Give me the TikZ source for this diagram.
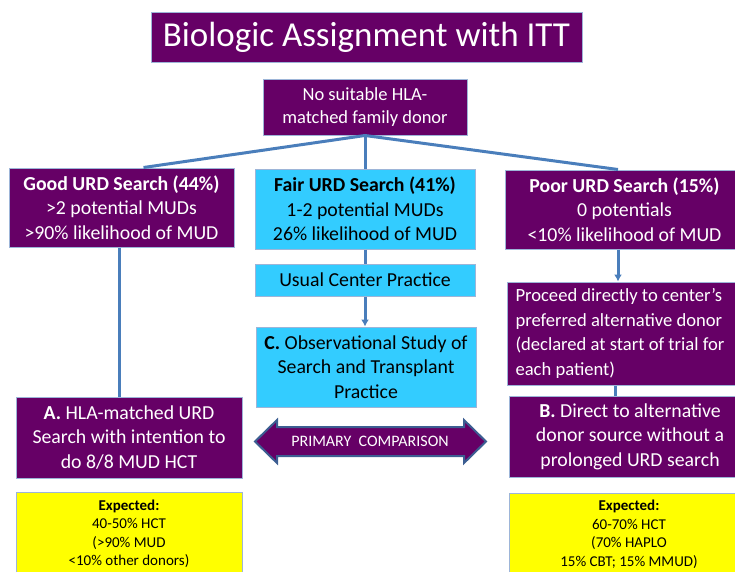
\documentclass[tikz,border=0pt]{standalone}
\usepackage{fontspec}
\setmainfont{Carlito}
\usetikzlibrary{arrows.meta}

\definecolor{plum}{HTML}{660066}
\definecolor{skycyan}{HTML}{33CCFF}
\definecolor{linkblue}{HTML}{4A7EBB}
\definecolor{rimblue}{HTML}{9DB5D8}
\definecolor{arrowrim}{HTML}{3C5E92}
\definecolor{hiyellow}{HTML}{FFFF00}

\tikzset{
    box/.style={draw=rimblue, line width=1pt, inner sep=0pt, align=center},
    plumbox/.style={box, fill=plum, text=white},
    cyanbox/.style={box, fill=skycyan, text=black},
    yellowbox/.style={box, fill=hiyellow, text=black, font=\fontsize{15}{18.5}\selectfont},
    bigtext/.style={font=\fontsize{19.8}{24.5}\selectfont},
}

\begin{document}
\begin{tikzpicture}[x=1pt, y=-1pt]
\path[use as bounding box, clip] (0,0) rectangle (735,571);

\begin{scope}[every node/.style={bigtext}]
    \node (title) at (366.5, 37) [plumbox, minimum width=431pt, minimum height=50pt,
        font=\fontsize{35}{40}\selectfont] {Biologic Assignment with ITT};
    \node (nofam) at (365, 107) [plumbox, minimum width=204pt, minimum height=56pt,
        font=\fontsize{18.5}{23}\selectfont] {No suitable HLA-\\matched family donor};

    \node (good) at (121.5, 207.5) [plumbox, minimum width=225pt, minimum height=79pt]
        {\textbf{Good URD Search (44\%)}\\>2 potential MUDs\\>90\% likelihood of MUD};
    \node (fair) at (365, 209) [cyanbox, minimum width=220pt, minimum height=80pt]
        {\textbf{Fair URD Search (41\%)}\\1-2 potential MUDs\\26\% likelihood of MUD};
    \node (poor) at (624.5, 209.5) [plumbox, minimum width=239pt, minimum height=79pt]
        {\textbf{Poor URD Search (15\%)}\\0 potentials\\<10\% likelihood of MUD};

    \node (usual) at (365, 280) [cyanbox, minimum width=220pt, minimum height=32pt] {Usual Center Practice};
    \node (obs) at (366, 367) [cyanbox, minimum width=220pt, minimum height=80pt]
        {\textbf{C.} Observational Study of\\Search and Transplant\\Practice};
    \node (proceed) at (507, 333.5) [plumbox, anchor=west, align=flush left, minimum width=250pt,
        minimum height=103pt, text width=250pt, inner xsep=8pt,
        font=\fontsize{18.6}{24.5}\selectfont]
        {Proceed directly to center’s\\preferred alternative donor\\(declared at start of trial for\\each patient)};

    \node (hcta) at (129, 437.5) [plumbox, minimum width=226pt, minimum height=81pt]
        {\textbf{A.} HLA-matched URD\\Search with intention to\\do 8/8 MUD HCT};
    \node (hctb) at (630, 436.5) [plumbox, minimum width=242pt, minimum height=81pt]
        {\textbf{B.} Direct to alternative\\donor source without a\\prolonged URD search};

    \node (expa) at (129, 534) [yellowbox, minimum width=226pt, minimum height=84pt]
        {\textbf{Expected:}\\40-50\% HCT\\(>90\% MUD\\<10\% other donors)};
    \node (expb) at (629, 534.5) [yellowbox, minimum width=240pt, minimum height=83pt]
        {\textbf{Expected:}\\60-70\% HCT\\(70\% HAPLO\\15\% CBT; 15\% MMUD)};
\end{scope}

% primary comparison arrow
\draw[fill=plum, draw=arrowrim, line width=2pt, line join=miter]
    (255,441.5) -- (277,420) -- (277,427) -- (464,427) -- (464,420) -- (486,441.5)
    -- (464,463) -- (464,456) -- (277,456) -- (277,463) -- cycle;
\node (cmp) at (370, 441.5) [text=white, font=\fontsize{16}{18}\selectfont] {PRIMARY\ \ COMPARISON};

\begin{scope}[>={Latex[length=7pt,width=8pt]},
              every edge/.style={draw=linkblue, line width=3pt}]
    \path [-] (nofam.south) edge ([xshift=22pt]good.north);
    \path [-] (nofam.south) edge (fair.north);
    \path [-] (nofam.south) edge ([xshift=-6.5pt]poor.north);

    \path [-] ([xshift=-2.5pt]good.south) edge ([xshift=-2.5pt]good.south |- hcta.north);
    \path [-] (fair.south) edge (usual.north);
    \path [->] (usual.south) edge (usual.south |- obs.north);

    \path [->] ([xshift=-6.5pt]poor.south) edge ([xshift=-6.5pt]poor.south |- proceed.north);
    \path [-] ([xshift=-15pt]hctb.north |- proceed.south) edge ([xshift=-15pt]hctb.north);
\end{scope}
\end{tikzpicture}
\end{document}
